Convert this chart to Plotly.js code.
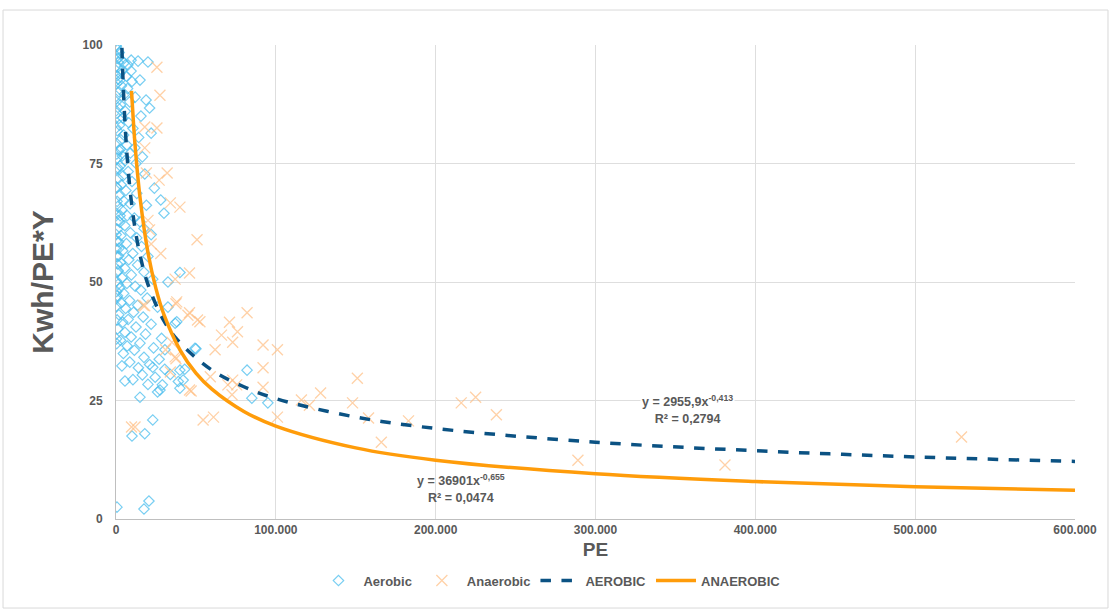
<!DOCTYPE html>
<html>
<head>
<meta charset="utf-8">
<script src="https://cdn.plot.ly/plotly-3.0.1.min.js"></script>
<style>html,body{margin:0;padding:0;background:#fff;}#chart{width:1113px;height:613px;}</style>
</head>
<body>
<div id="chart"></div>
<script>
// Aerobic observations (PE, Kwh/PE*Y) — 10 per row
var aeroX = [
  300,1000,2000,500,3000,1500,5000,7500,9500,13800,
  20000,800,3800,2400,6500,9400,1300,10000,400,15000,
  3400,7200,1900,5300,200,12000,18800,8600,2800,1200,
  21000,5800,500,15600,4200,8000,2200,10600,900,22000,
  4800,14200,3000,400,6800,11800,1800,9000,3900,800,
  16500,5600,12500,2600,300,7600,18000,4400,1400,10000,
  24000,3200,600,6200,13000,2000,28000,4800,8800,1000,
  19000,3600,200,30000,7000,11500,15000,2400,5500,17500,
  900,9000,3000,22000,13000,400,6500,16000,1800,4200,
  10500,20000,700,8000,2800,13500,5600,1300,17500,9600,
  3800,23000,300,6800,12000,2300,15500,4800,900,19500,
  8500,3200,13500,200,6000,26000,11000,1800,17000,7600,
  4200,22000,12500,1000,5600,18500,9500,28500,2800,15000,
  7000,23500,11500,400,4600,17500,27000,8600,21000,14000,
  30500,3700,16500,24500,10600,5600,15000,26000,29000,39000,
  40000,34000,20000,42000,40000,49400,30600,37000,32500,32500,
  40000,38000,82000,85000,95000,23000,10000,18000,600,17500,
  20600,27500,23000,43000,50000,200,1700,700,1300,200,
  1700,600,1300,200,2600,2700,1300,200,2400,1600,
  700,300,100,1100,600,100,500,100,900,400
];
var aeroY = [
  99.6,99.0,98.4,97.6,97.0,96.3,96.2,95.8,96.8,96.6,
  96.4,95.2,94.6,94.0,93.4,94.5,92.8,92.3,91.9,92.6,
  91.4,90.8,90.1,89.6,89.2,89.0,88.4,88.0,87.4,86.8,
  86.7,86.0,85.6,85.0,84.6,83.6,83.1,82.4,81.9,81.4,
  81.0,80.5,80.0,79.2,78.9,78.3,77.8,77.2,76.6,76.1,
  76.4,75.6,75.0,74.5,73.9,73.3,72.8,72.4,71.8,71.2,
  69.8,70.5,69.9,69.3,68.7,68.2,67.3,67.1,66.5,65.9,
  66.2,65.2,64.5,64.5,64.0,63.5,62.7,62.6,61.9,61.3,
  61.1,60.4,59.8,60.0,59.3,58.7,58.1,57.5,57.1,56.6,
  56.0,55.4,55.3,54.7,54.1,53.6,52.9,52.4,52.1,51.5,
  50.9,50.6,50.2,49.7,49.1,48.7,48.3,47.6,47.1,46.6,
  46.1,45.6,45.1,44.9,44.4,44.7,43.6,43.1,42.6,42.1,
  41.5,41.1,40.5,40.1,39.4,39.0,38.4,38.1,37.7,37.1,
  36.5,36.1,35.6,37.0,34.9,34.1,33.7,33.1,32.6,31.9,
  31.6,32.3,30.4,29.9,29.4,29.1,25.7,26.8,28.3,29.0,
  27.6,30.5,28.4,29.3,31.4,36.0,35.7,41.3,44.7,50.0,
  52.0,41.6,31.4,25.5,24.5,20.9,17.5,18.0,2.5,2.1,
  3.8,27.2,32.0,31.6,35.9,88.0,84.5,67.0,63.0,57.0,
  55.5,52.0,49.5,46.5,64.0,78.0,74.0,70.0,92.5,58.5,
  42.0,38.0,99.9,97.2,93.5,82.5,77.0,60.0,53.8,48.0
];

// Anaerobic observations (PE, Kwh/PE*Y)
var anaX = [25600,27500,25600,18000,18000,19000,27000,32000,34000,40000,50700,21000,22000,46000,37000,18000,37500,45000,51000,31000,37500,34000,52500,71000,82000,76000,66000,73000,62000,92000,101000,92000,59000,73000,70000,75500,92000,72600,61000,54500,101000,116000,121000,128000,151000,148000,158000,166000,183000,216000,225000,238000,289000,381000,529000,9700,11900,47000,20000,28000,38000,46000,17000,35000,37000,46000];
var anaY = [95.3,89.4,82.5,82.7,78.3,73.0,71.5,73.0,66.7,65.8,58.9,61.0,58.0,51.9,50.6,45.0,45.4,43.0,42.0,35.7,33.8,31.0,41.6,41.5,43.5,39.5,38.8,37.3,35.7,36.7,35.7,31.9,30.0,29.3,28.3,28.3,27.8,26.2,21.5,20.9,21.5,25.1,24.0,26.6,29.7,24.5,21.3,16.2,20.7,24.5,25.7,22.0,12.4,11.4,17.3,19.4,19.4,27.0,63.0,56.0,45.8,43.5,45.1,37.3,34.2,27.2];

// Power trendlines
var aeroTrendX = [3700,4000,5000,6000,7000,8500,10000,12000,15000,20000,30000,40000,60000,80000,100000,150000,200000,300000,400000,500000,600000];
var aeroTrendY = [99.4,96.2,87.7,81.3,76.3,70.4,65.9,61.1,55.7,49.5,41.8,37.2,31.4,27.9,25.4,21.5,19.1,16.2,14.4,13.1,12.15];
var anaTrendX = [9700,11000,12000,15000,20000,25000,30000,40000,50000,60000,80000,100000,150000,200000,300000,400000,500000,600000];
var anaTrendY = [90.3,83.2,78.6,67.9,56.2,48.6,43.1,35.7,30.8,27.4,22.7,19.6,15.0,12.4,9.53,7.89,6.82,6.05];

var xTickVals = [0,100000,200000,300000,400000,500000,600000];
var xTickText = ['0','100.000','200.000','300.000','400.000','500.000','600.000'];
var yTickVals = [0,25,50,75,100];

var gray = '#595959';
var fam = 'Liberation Sans, Arial, sans-serif';

var traces = [
  {x: aeroX, y: aeroY, name: 'Aerobic', type: 'scatter', mode: 'markers',
   marker: {symbol: 'diamond-open', size: 8, color: 'rgba(75,190,238,0.75)', line: {width: 1.2}}},
  {x: anaX, y: anaY, name: 'Anaerobic', type: 'scatter', mode: 'markers',
   marker: {symbol: 'x-thin-open', size: 11, color: 'rgba(255,190,130,0.7)', line: {width: 1.3, color: 'rgba(255,190,130,0.7)'}}},
  {x: aeroTrendX, y: aeroTrendY, name: 'AEROBIC', type: 'scatter', mode: 'lines',
   line: {color: '#0B5283', width: 3.5, dash: 'dash', shape: 'spline'}},
  {x: anaTrendX, y: anaTrendY, name: 'ANAEROBIC', type: 'scatter', mode: 'lines',
   line: {color: '#FF9C0A', width: 3.5, shape: 'spline'}}
];

var layout = {
  width: 1113, height: 613,
  paper_bgcolor: '#ffffff', plot_bgcolor: '#ffffff',
  margin: {l: 116, r: 38, t: 45, b: 94},
  font: {family: fam, color: gray},
  showlegend: true,
  legend: {orientation: 'h', x: 0.452, xanchor: 'center', y: -0.13, yanchor: 'middle',
           font: {family: fam, size: 13, color: gray, weight: 'bold'}, itemwidth: 40, tracegroupgap: 0},
  xaxis: {range: [0, 600000], tickvals: xTickVals, ticktext: xTickText,
          showgrid: true, gridcolor: '#dedede', gridwidth: 1,
          showline: true, linecolor: '#bfbfbf', linewidth: 1, zeroline: false, ticks: '',
          tickfont: {family: fam, size: 12, color: gray, weight: 'bold'},
          title: {text: 'PE', font: {family: fam, size: 19, color: gray, weight: 'bold'}, standoff: 6}},
  yaxis: {range: [0, 100], tickvals: yTickVals,
          showgrid: true, gridcolor: '#dedede', gridwidth: 1,
          showline: true, linecolor: '#bfbfbf', linewidth: 1, zeroline: false, ticks: '',
          ticklabelstandoff: 10,
          tickfont: {family: fam, size: 12, color: gray, weight: 'bold'},
          title: {text: 'Kwh/PE*Y', font: {family: fam, size: 30, color: gray, weight: 'bold'}, standoff: 20}},
  annotations: [
    {x: 357300, y: 23.2, xref: 'x', yref: 'y', showarrow: false,
     text: 'y = 2955,9x<sup>-0,413</sup><br>R² = 0,2794', align: 'center',
     bgcolor: '#ffffff', font: {family: fam, size: 12.5, color: gray, weight: 'bold'}},
    {x: 215900, y: 6.5, xref: 'x', yref: 'y', showarrow: false,
     text: 'y = 36901x<sup>-0,655</sup><br>R² = 0,0474', align: 'center',
     bgcolor: 'rgba(255,255,255,0)', font: {family: fam, size: 12.5, color: gray, weight: 'bold'}}
  ],
  shapes: [
    {type: 'rect', xref: 'paper', yref: 'paper', x0: -0.1178, x1: 1.0344, y0: -0.1878, y1: 1.0738,
     line: {color: '#d9d9d9', width: 1}, fillcolor: 'rgba(0,0,0,0)', layer: 'below'}
  ]
};

Plotly.newPlot('chart', traces, layout, {displayModeBar: false, staticPlot: true});
</script>
</body>
</html>
